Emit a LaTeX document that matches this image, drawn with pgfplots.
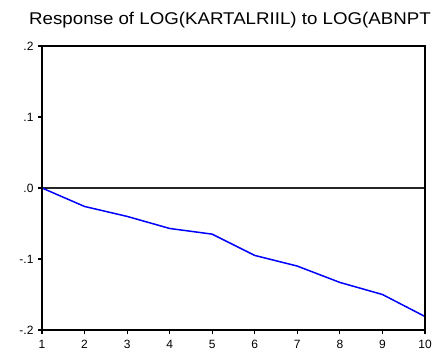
\documentclass[border=0pt]{standalone}
\usepackage{pgfplots}
\pgfplotsset{compat=1.18}
\usepackage{fontspec}
\setmainfont{Liberation Sans}
\begin{document}
\begin{tikzpicture}[x=1pt,y=1pt]
\useasboundingbox (-42,-29) rectangle (391,330);
\begin{axis}[
  name=irf,
  at={(0,0)}, anchor=south west,
  scale only axis, width=383pt, height=284pt,
  xmin=1, xmax=10, ymin=-0.2, ymax=0.2,
  xtick={1,...,10}, ytick={-0.2,-0.1,0,0.1,0.2},
  yticklabels={-.2,-.1,.0,.1,.2},
  tick align=outside, major tick length=4pt,
  xtick pos=bottom, ytick pos=left,
  tick style={black, line width=1.2pt},
  /pgf/number format/assume math mode=true,
  ticklabel style={font=\fontsize{12}{12}\selectfont},
  xticklabel style={yshift=-3pt},
  yticklabel style={xshift=-1pt},
]
\addplot[black!85, line width=1.4pt, forget plot] coordinates {(1,0) (10,0)};
\addplot[blue, line width=1.5pt] coordinates {
  (1,0) (2,-0.026) (3,-0.040) (4,-0.057) (5,-0.065)
  (6,-0.095) (7,-0.110) (8,-0.133) (9,-0.150) (10,-0.181)
};
\end{axis}
% heavier frame around the plot area
\draw[black, line width=1.8pt] (irf.south west) rectangle (irf.north east);
\node[anchor=base west, font=\fontsize{17}{17}\selectfont, inner sep=0pt,
  transform shape, xscale=1.1] at (-13,305) {Response of LOG(KARTALRIIL) to LOG(ABNPT};
\end{tikzpicture}
\end{document}
